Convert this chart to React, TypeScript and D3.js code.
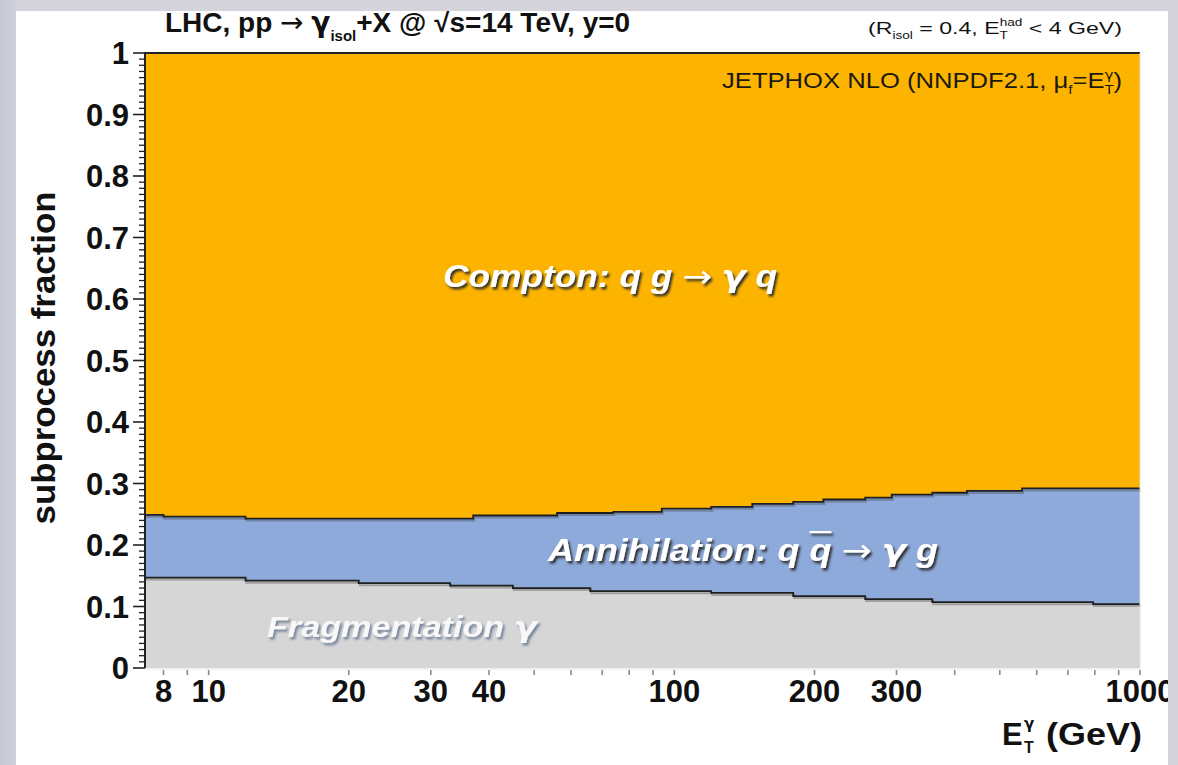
import React from "react";
import * as d3 from "d3";

// ---- data ----
const binEdges = [7.3, 8, 12, 21, 33, 37, 45, 56, 66, 74, 94, 120, 147, 180, 209, 257, 293, 358, 425, 558, 793, 1000];
const fragmentation = [0.147, 0.147, 0.142, 0.138, 0.134, 0.134, 0.130, 0.130, 0.125, 0.125, 0.125, 0.122, 0.122, 0.117, 0.117, 0.112, 0.112, 0.107, 0.107, 0.107, 0.104];
const annihilation = [0.102, 0.099, 0.101, 0.105, 0.109, 0.114, 0.118, 0.122, 0.127, 0.129, 0.134, 0.140, 0.145, 0.153, 0.157, 0.165, 0.170, 0.178, 0.181, 0.185, 0.188];
const compton = [0.751, 0.754, 0.757, 0.757, 0.757, 0.752, 0.752, 0.748, 0.748, 0.746, 0.741, 0.738, 0.733, 0.730, 0.726, 0.723, 0.718, 0.715, 0.712, 0.708, 0.708];

const xTickValues = [8, 9, 10, 20, 30, 40, 50, 60, 70, 80, 90, 100, 200, 300, 400, 500, 600, 700, 800, 900, 1000];
const xTickLabels = [8, 10, 20, 30, 40, 100, 200, 300, 1000];
const yMajorTicks = [0, 0.1, 0.2, 0.3, 0.4, 0.5, 0.6, 0.7, 0.8, 0.9, 1];

const W = 1178;
const H = 765;
const FONT = "'Liberation Sans', Arial, Helvetica, sans-serif";
const SYM = "'DejaVu Sans', sans-serif";

const COL_COMPTON = "#fdb400";
const COL_ANNIH = "#8eaadb";
const COL_FRAG = "#d6d6d6";

export default function App() {
  const x = d3.scaleLog().domain([7.3, 1000]).range([145, 1140]);
  const y = d3.scaleLinear().domain([0, 1]).range([668, 53]);

  type Row = { et: number; frag: number; annih: number; compton: number };
  const rows: Row[] = binEdges.map((e, i) => {
    const k = Math.min(i, fragmentation.length - 1);
    return { et: e, frag: fragmentation[k], annih: annihilation[k], compton: compton[k] };
  });

  const stack = d3.stack<Row>().keys(["frag", "annih", "compton"]);
  const series = stack(rows);

  const area = d3
    .area<d3.SeriesPoint<Row>>()
    .x((d) => x(d.data.et))
    .y0((d) => y(d[0]))
    .y1((d) => y(Math.min(1, d[1])))
    .curve(d3.curveStepAfter);

  const line = d3
    .line<d3.SeriesPoint<Row>>()
    .x((d) => x(d.data.et))
    .y((d) => y(d[1]))
    .curve(d3.curveStepAfter);

  const colors = [COL_FRAG, COL_ANNIH, COL_COMPTON];

  const yMinor = d3.range(0, 101).map((i) => i / 100);

  const fmtY = (v: number) => (v === 0 ? "0" : v === 1 ? "1" : v.toFixed(1));

  return (
    <svg
      width={W}
      height={H}
      style={{ position: "absolute", left: 0, top: 0, display: "block" }}
      fontFamily={FONT}
    >
      <defs>
        <filter id="shadowDark" x="-5%" y="-20%" width="115%" height="160%">
          <feDropShadow dx="2" dy="2.5" stdDeviation="0.9" floodColor="#2a2a2a" floodOpacity="0.95" />
        </filter>
        <filter id="shadowLight" x="-5%" y="-20%" width="115%" height="160%">
          <feDropShadow dx="2" dy="2.5" stdDeviation="0.9" floodColor="#6f7f9a" floodOpacity="0.9" />
        </filter>
        <linearGradient id="leftStrip" x1="0" x2="1" y1="0" y2="0">
          <stop offset="0" stopColor="#c6c6d6" />
          <stop offset="1" stopColor="#d0d0dc" />
        </linearGradient>
      </defs>

      <rect x={0} y={0} width={W} height={H} fill="#ffffff" />

      {/* stacked areas */}
      {series.map((s, i) => (
        <path key={s.key} d={area(s) || ""} fill={colors[i]} />
      ))}

      {/* boundary shadows + lines */}
      {series.slice(0, 2).map((s) => (
        <path
          key={"sh" + s.key}
          d={line(s) || ""}
          fill="none"
          stroke="rgba(60,60,60,0.35)"
          strokeWidth={2}
          transform="translate(1,2)"
        />
      ))}
      {series.slice(0, 2).map((s) => (
        <path key={"ln" + s.key} d={line(s) || ""} fill="none" stroke="#1e1e1e" strokeWidth={1.8} />
      ))}

      {/* frame */}
      <line x1={x(7.3)} x2={x(1000)} y1={y(1)} y2={y(1)} stroke="#222" strokeWidth={2} />
      <line x1={x(7.3)} x2={x(7.3)} y1={y(1) - 1} y2={y(0)} stroke="#222" strokeWidth={2} />
      <line x1={x(1000)} x2={x(1000)} y1={y(1)} y2={y(0)} stroke="#e6e1d6" strokeWidth={1} />
      <line x1={x(7.3)} x2={x(1000)} y1={y(0) + 1} y2={y(0) + 1} stroke="#e2e2e2" strokeWidth={1} />

      {/* y ticks */}
      {yMinor.map((v, i) => {
        const major = i % 10 === 0;
        return (
          <line
            key={"ym" + i}
            x1={x(7.3) - (major ? 12 : 6)}
            x2={x(7.3)}
            y1={y(v)}
            y2={y(v)}
            stroke="#222"
            strokeWidth={major ? 1.6 : 1.3}
          />
        );
      })}
      {yMajorTicks.map((v) => (
        <text
          key={"yl" + v}
          x={129}
          y={y(v)}
          dy="0.36em"
          textAnchor="end"
          fontSize={31}
          fontWeight="bold"
          fill="#111"
        >
          {fmtY(v)}
        </text>
      ))}

      {/* x ticks */}
      {xTickValues.map((v) => (
        <line
          key={"xt" + v}
          x1={x(v)}
          x2={x(v)}
          y1={y(0) + 2}
          y2={y(0) + 7}
          stroke="#8a8a8a"
          strokeWidth={1.6}
        />
      ))}
      {xTickLabels.map((v) => (
        <text
          key={"xl" + v}
          x={x(v)}
          y={702}
          textAnchor="middle"
          fontSize={31}
          fontWeight="bold"
          fill="#111"
        >
          {v}
        </text>
      ))}

      {/* axis titles */}
      <text
        transform={`translate(55,${358}) rotate(-90)`}
        textAnchor="middle"
        fontSize={33}
        fontWeight="bold"
        fill="#111"
        textLength={333}
        lengthAdjust="spacingAndGlyphs"
      >
        subprocess fraction
      </text>

      <text x={1002} y={745} fontSize={31} fontWeight="bold" fill="#111">E</text>
      <text x={1024} y={729} fontSize={15} fontWeight="bold" fill="#111" fontFamily={SYM}>γ</text>
      <text x={1024} y={753} fontSize={16} fontWeight="bold" fill="#111">T</text>
      <text
        x={1046}
        y={745}
        fontSize={31}
        fontWeight="bold"
        fill="#111"
        textLength={96}
        lengthAdjust="spacingAndGlyphs"
      >
        (GeV)
      </text>

      {/* header texts */}
      <text x={165} y={32} fontSize={28} fontWeight="bold" fill="#111">
        LHC, pp <tspan fontFamily={SYM} fontWeight="normal">→</tspan> <tspan fontFamily={SYM}>γ</tspan>
        <tspan dy={9} fontSize={15}>isol</tspan>
        <tspan dy={-9}>+X @ √s=14 TeV, y=0</tspan>
      </text>

      <text
        x={868}
        y={34}
        fontSize={17}
        fill="#111"
        textLength={254}
        lengthAdjust="spacingAndGlyphs"
      >
        (R
        <tspan dy={5} fontSize={10}>isol</tspan>
        <tspan dy={-5}> = 0.4, E</tspan>
        <tspan dy={5} fontSize={10}>T</tspan>
        <tspan dx={-6} dy={-13} fontSize={10}>had</tspan>
        <tspan dy={8}> &lt; 4 GeV)</tspan>
      </text>

      <text
        x={1122}
        y={88}
        fontSize={22}
        fill="#1c1a10"
        textAnchor="end"
        textLength={400}
        lengthAdjust="spacingAndGlyphs"
      >
        JETPHOX NLO (NNPDF2.1, μ
        <tspan dy={6} fontSize={13}>f</tspan>
        <tspan dy={-6}>=E</tspan>
        <tspan dy={6} fontSize={13}>T</tspan>
        <tspan dx={-8} dy={-15} fontSize={13} fontFamily={SYM}>γ</tspan>
        <tspan dy={9}>)</tspan>
      </text>

      {/* in-plot labels */}
      <text
        x={443}
        y={287}
        fontSize={31}
        fontWeight="bold"
        fontStyle="italic"
        fill="#ffffff"
        filter="url(#shadowDark)"
        textLength={334}
        lengthAdjust="spacingAndGlyphs"
      >
        Compton: q g <tspan fontFamily={SYM} fontStyle="normal" fontWeight="normal">→</tspan> <tspan fontFamily={SYM}>γ</tspan> q
      </text>

      <text
        x={548}
        y={561}
        fontSize={31}
        fontWeight="bold"
        fontStyle="italic"
        fill="#ffffff"
        filter="url(#shadowDark)"
        textLength={390}
        lengthAdjust="spacingAndGlyphs"
      >
        Annihilation: q <tspan style={{ textDecoration: "overline" }}>q</tspan> <tspan fontFamily={SYM} fontStyle="normal" fontWeight="normal">→</tspan> <tspan fontFamily={SYM}>γ</tspan> g
      </text>

      <text
        x={267}
        y={637}
        fontSize={29}
        fontWeight="bold"
        fontStyle="italic"
        fill="#f8f8f8"
        filter="url(#shadowLight)"
        textLength={270}
        lengthAdjust="spacingAndGlyphs"
      >
        Fragmentation <tspan fontFamily={SYM}>γ</tspan>
      </text>

      {/* outer gray border (on top, clips title & 1000 label) */}
      <path
        d={`M0,0H${W}V${H}H0Z M16,11V${H}H1168V11Z`}
        fill="#d4d4da"
        fillRule="evenodd"
      />
      <rect x={0} y={0} width={16} height={H} fill="url(#leftStrip)" />
    </svg>
  );
}
